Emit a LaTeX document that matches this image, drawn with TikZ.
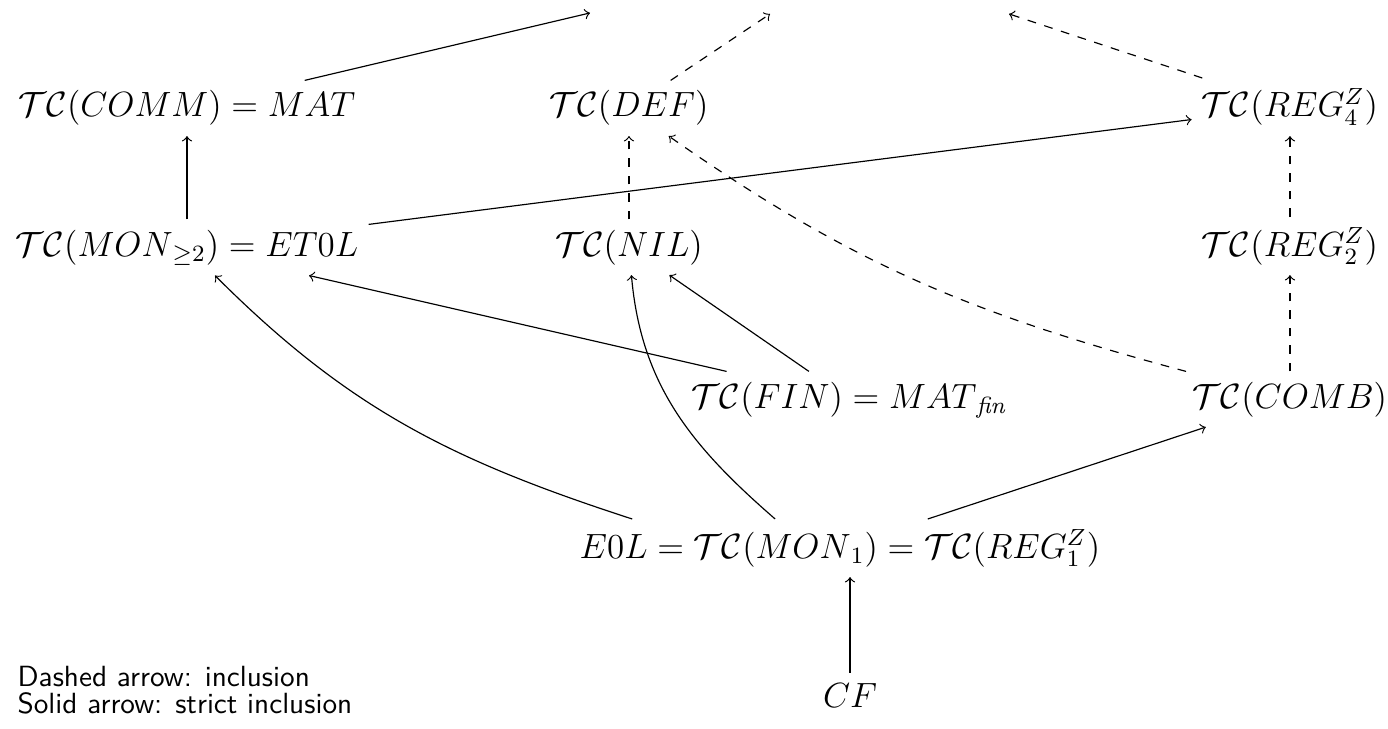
\documentclass[tikz,border=0pt]{standalone}
\usepackage{amsmath,amssymb}
\begin{document}
\begin{tikzpicture}[every node/.style={font=\large}, strict/.style={->}, incl/.style={->,dashed}]
\useasboundingbox (0,0) rectangle (16.703,-8.761);
% upper row
\node[anchor=base] (comm) at (2.250,-1.408) {$\mathcal{TC}(COMM) = MAT$};
\node[anchor=base] (def) at (7.569,-1.408) {$\mathcal{TC}(DEF)$};
\node[anchor=base] (reg4) at (15.523,-1.408) {$\mathcal{TC}(REG^Z_4)$};
% second row
\node[anchor=base] (mon) at (2.250,-3.081) {$\mathcal{TC}({MON}_{\geq 2}) = ET0L$};
\node[anchor=base] (nil) at (7.569,-3.081) {$\mathcal{TC}(NIL)$};
\node[anchor=base] (reg2) at (15.523,-3.081) {$\mathcal{TC}(REG^Z_2)$};
% third row
\node[anchor=base] (fin) at (10.229,-4.910) {$\mathcal{TC}(FIN) = {MAT}_{\mathit{fin}}$};
\node[anchor=base] (comb) at (15.523,-4.910) {$\mathcal{TC}(COMB)$};
% bottom
\node[anchor=base] (e0l) at (10.108,-6.715) {$E0L = \mathcal{TC}({MON}_1) = \mathcal{TC}(REG^Z_1)$};
\node[anchor=base] (cf) at (10.229,-8.508) {$CF$};
% legend
\node[anchor=base west, font=\normalsize\sffamily] (leg1) at (0.088,-8.267) {Dashed arrow: inclusion};
\node[anchor=base west, font=\normalsize\sffamily] (leg2) at (0.088,-8.592) {Solid arrow: strict inclusion};
% ends of the arrows leaving the picture at the top
\coordinate (up1) at (7.100,-0.156);
\coordinate (up2) at (9.266,-0.168);
\coordinate (up3) at (12.142,-0.168);

\draw[strict] (comm) -- (up1);
\draw[incl] (def) -- (up2);
\draw[incl] (reg4) -- (up3);

\draw[strict] (mon.north) -- (mon.north |- comm.south);
\draw[incl] (nil.north) -- (nil.north |- def.south);
\draw[incl] (reg2.north) -- (reg2.north |- reg4.south);
\draw[strict] (mon) -- (reg4);

\draw[strict] (fin) -- (mon);
\draw[strict] (fin) -- (nil);
\draw[incl] (comb.north -| reg2) -- (reg2.south);
\draw[incl] (comb) to[out=165,in=-35] (def);

\draw[strict] ([xshift=-2.50cm]e0l.north) to[out=162,in=-45] (mon);
\draw[strict] ([xshift=-0.78cm]e0l.north) to[out=139,in=-85] (nil);
\draw[strict] (e0l) -- (comb);
\draw[strict] (cf.north) -- (cf.north |- e0l.south);
\end{tikzpicture}
\end{document}
